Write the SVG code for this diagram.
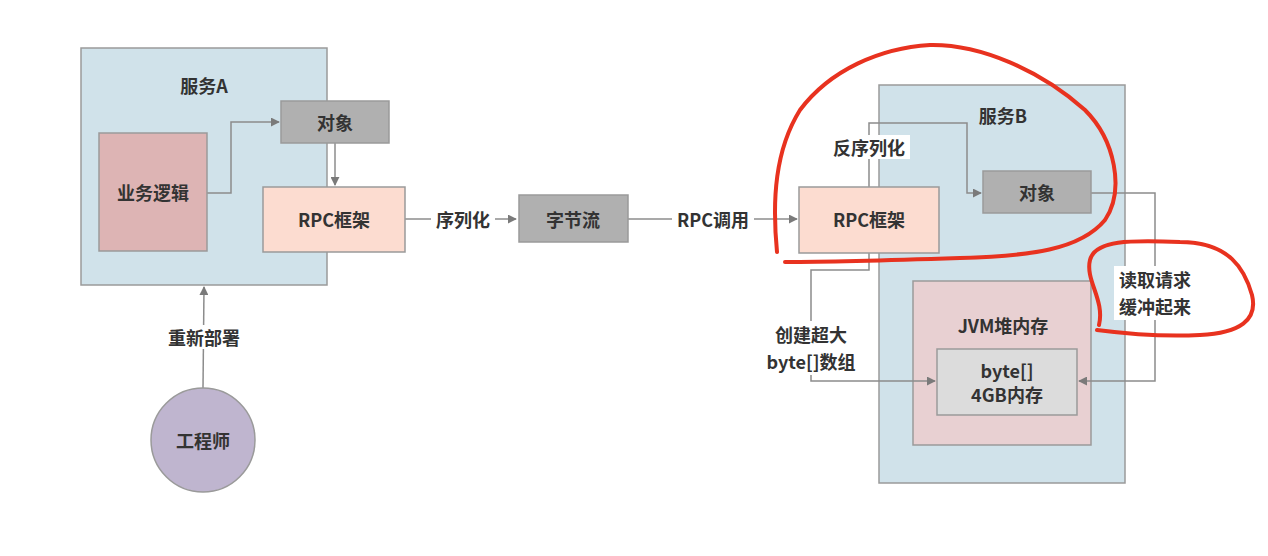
<svg xmlns="http://www.w3.org/2000/svg" width="1268" height="556" viewBox="0 0 1268 556">
<defs>
<style>
.box{stroke:#9a9a9a;stroke-width:1.5}
.t{font-family:"Noto Sans CJK SC","Noto Sans",sans-serif;font-size:18px;font-weight:700;fill:#333;text-anchor:middle;dominant-baseline:central}
.c{fill:none;stroke:#8c8c8c;stroke-width:1.5}
.lb{fill:#fff}
.red{fill:none;stroke:#e8321f;stroke-width:4;stroke-linecap:round;stroke-linejoin:round}
</style>
<marker id="a" viewBox="0 0 10 10" refX="9" refY="5" markerWidth="9" markerHeight="9" markerUnits="userSpaceOnUse" orient="auto"><path d="M0,0L10,5L0,10Z" fill="#7a7a7a"/></marker>
</defs>
<rect width="1268" height="556" fill="#fff"/>
<g id="serviceA"><rect class="box" x="81" y="48" width="246" height="237" fill="#d0e2ea"/><text class="t" x="204" y="85">服务A</text></g>
<g id="serviceB"><rect class="box" x="879" y="85" width="246" height="398" fill="#d0e2ea"/><text class="t" x="1003" y="115">服务B</text></g>
<g id="jvm"><rect class="box" x="913" y="281" width="178" height="164" fill="#e8d0d2"/><text class="t" x="1003" y="325">JVM堆内存</text></g>
<g id="connectors">
<polyline class="c" points="207,193 231,193 231,122 279,122" marker-end="url(#a)"/>
<polyline class="c" points="335,143 335,185" marker-end="url(#a)"/>
<polyline class="c" points="405,219 516,219" marker-end="url(#a)"/>
<rect class="lb" x="431" y="207" width="64" height="24"/><text class="t" x="463" y="219">序列化</text>
<polyline class="c" points="628,219 797,219" marker-end="url(#a)"/>
<rect class="lb" x="672" y="207" width="82" height="24"/><text class="t" x="713" y="219">RPC调用</text>
<polyline class="c" points="203,388 204,287" marker-end="url(#a)"/>
<rect class="lb" x="162" y="325" width="84" height="24"/><text class="t" x="204" y="337">重新部署</text>
<polyline class="c" points="869,187 869,123 967,123 967,193 981,193" marker-end="url(#a)"/>
<rect class="lb" x="828" y="135" width="82" height="24"/><text class="t" x="869" y="147">反序列化</text>
<polyline class="c" points="869,253 869,270 811,270 811,381 935,381" marker-end="url(#a)"/>
<rect class="lb" x="763" y="321" width="96" height="54"/><text class="t" x="811" y="334">创建超大</text><text class="t" x="811" y="361">byte[]数组</text>
<polyline class="c" points="1091,193 1155,193 1155,381 1079,381" marker-end="url(#a)"/>
<rect class="lb" x="1114" y="266" width="82" height="54"/><text class="t" x="1155" y="279">读取请求</text><text class="t" x="1155" y="306">缓冲起来</text>
</g>
<g id="biz"><rect class="box" x="99" y="133" width="108" height="118" fill="#ddb4b4"/><text class="t" x="153" y="192">业务逻辑</text></g>
<g id="objA"><rect class="box" x="281" y="101" width="108" height="42" fill="#b0b0b0"/><text class="t" x="335" y="122">对象</text></g>
<g id="rpcA"><rect class="box" x="263" y="187" width="142" height="65" fill="#fcdcd0"/><text class="t" x="334" y="219">RPC框架</text></g>
<g id="bytes"><rect class="box" x="519" y="195" width="109" height="47" fill="#b0b0b0"/><text class="t" x="573" y="219">字节流</text></g>
<g id="rpcB"><rect class="box" x="799" y="187" width="140" height="66" fill="#fcdcd0"/><text class="t" x="869" y="219">RPC框架</text></g>
<g id="objB"><rect class="box" x="983" y="171" width="108" height="42" fill="#b0b0b0"/><text class="t" x="1037" y="192">对象</text></g>
<g id="byteArr"><rect class="box" x="937" y="349" width="140" height="66" fill="#dcdcdc"/><text class="t" x="1007" y="370">byte[]</text><text class="t" x="1007" y="394">4GB内存</text></g>
<g id="engineer"><circle cx="203" cy="440" r="52" fill="#bfb5cf" stroke="#9a9a9a" stroke-width="1.5"/><text class="t" x="203" y="440">工程师</text></g>
<g id="annotations">
<path class="red" d="M777,252 C772,200 775,150 800,110 C830,70 880,48 930,45 C980,44 1040,70 1085,110 C1115,140 1125,190 1105,220 C1080,250 1030,256 960,258 C900,260 840,262 785,262"/>
<path class="red" d="M1099,325 C1105,300 1085,280 1090,260 C1095,240 1130,240 1180,242 C1230,242 1245,270 1252,295 C1258,320 1240,333 1200,335 C1160,337 1120,333 1097,330"/>
</g>
</svg>
